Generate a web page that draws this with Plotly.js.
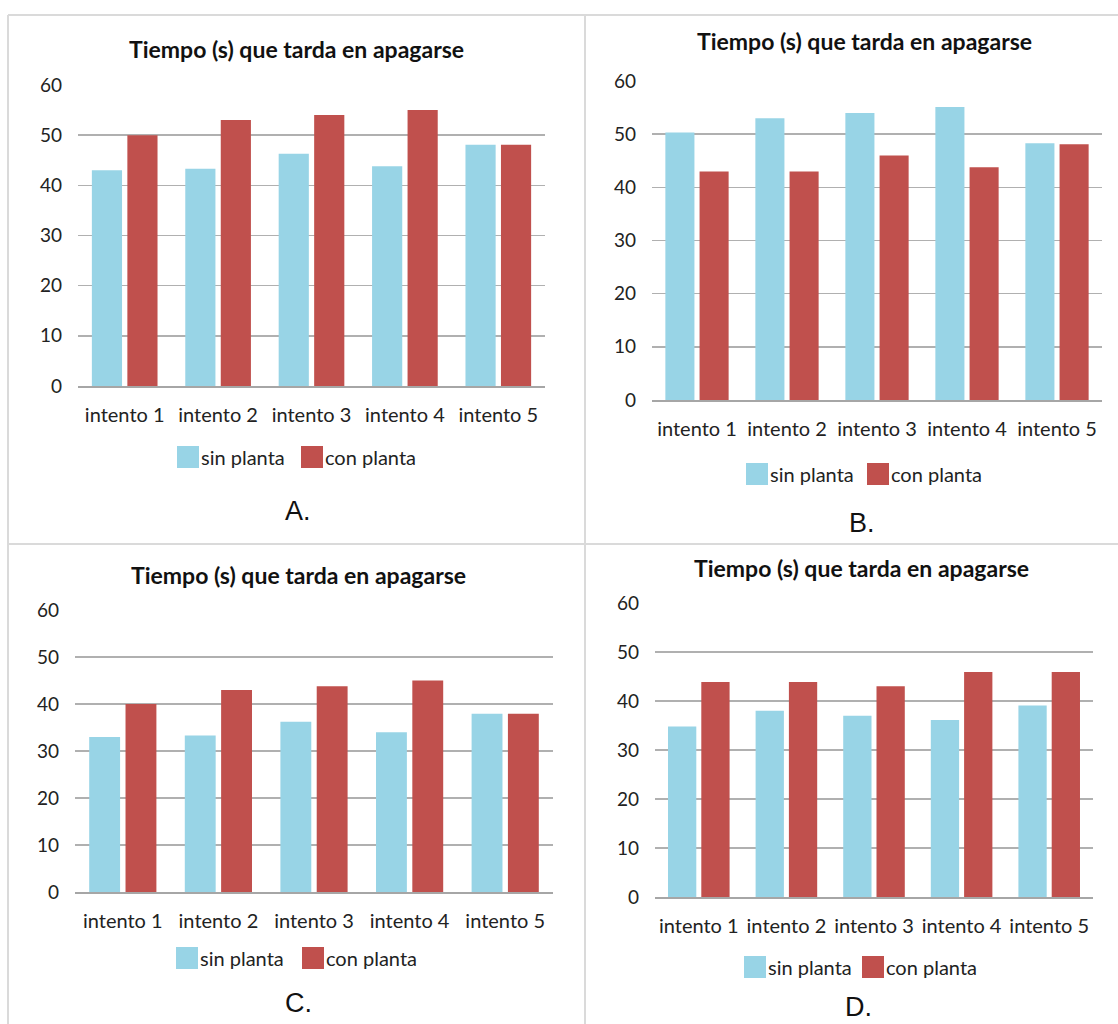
<!DOCTYPE html>
<html>
<head>
<meta charset="utf-8">
<script src="https://cdn.plot.ly/plotly-3.0.1.min.js"></script>
<style>html,body{margin:0;padding:0;background:#fff;}#chart{width:1118px;height:1024px;}</style>
</head>
<body>
<div id="chart"></div>
<script>
// ---- data ----
const categories = ['intento 1', 'intento 2', 'intento 3', 'intento 4', 'intento 5'];
const seriesNames = ['sin planta', 'con planta'];
const chartTitle = 'Tiempo (s) que tarda en apagarse';
const yTicks = [0, 10, 20, 30, 40, 50, 60];

const sinA = [43, 43.3, 46.3, 43.8, 48.1];
const conA = [50, 53, 54, 55, 48.1];
const sinB = [50.3, 53, 54, 55.1, 48.3];
const conB = [43, 43, 46, 43.8, 48.1];
const sinC = [33, 33.3, 36.2, 34, 37.9];
const conC = [40, 43, 43.8, 45, 37.9];
const sinD = [34.8, 38, 37, 36.1, 39.1];
const conD = [43.9, 43.9, 43, 45.9, 45.9];
const panelLabels = ['A.', 'B.', 'C.', 'D.'];

// ---- layout helpers ----
const W = 1118, H = 1024;
const px = v => v / W;
const py = v => 1 - v / H;
const SIN = '#98d4e6';
const CON = '#c0504d';
const FONT = 'Lato, "Open Sans", sans-serif';

const panels = [
  {sin: sinA, con: conA, x0: 78,  x1: 545,  yTop: 85,  yBot: 386, tX: 296, tY: 49,  legY: 457, sinSw: 177, conSw: 301, lX: 298, lY: 511},
  {sin: sinB, con: conB, x0: 652, x1: 1102, yTop: 81,  yBot: 400, tX: 864, tY: 41,  legY: 474, sinSw: 746, conSw: 867, lX: 862, lY: 523},
  {sin: sinC, con: conC, x0: 75,  x1: 553,  yTop: 610, yBot: 892, tX: 298, tY: 575, legY: 958, sinSw: 176, conSw: 302, lX: 298, lY: 1003},
  {sin: sinD, con: conD, x0: 655, x1: 1093, yTop: 603, yBot: 897, tX: 861, tY: 568, legY: 967, sinSw: 744, conSw: 862, lX: 858, lY: 1007}
];

const data = [];
const layout = {
  width: W, height: H,
  margin: {l: 0, r: 0, t: 0, b: 0},
  paper_bgcolor: '#ffffff',
  plot_bgcolor: '#ffffff',
  barmode: 'group',
  bargap: 0.24,
  bargroupgap: 0.15,
  showlegend: false,
  font: {family: FONT, color: '#222222'},
  annotations: [],
  shapes: []
};

panels.forEach((p, i) => {
  const n = i + 1;
  const xa = n === 1 ? 'x' : 'x' + n;
  const ya = n === 1 ? 'y' : 'y' + n;
  data.push({type: 'bar', x: categories, y: p.sin, name: seriesNames[0], xaxis: xa, yaxis: ya,
             marker: {color: SIN}, hoverinfo: 'x+y+name'});
  data.push({type: 'bar', x: categories, y: p.con, name: seriesNames[1], xaxis: xa, yaxis: ya,
             marker: {color: CON}, hoverinfo: 'x+y+name'});

  layout['xaxis' + (n === 1 ? '' : n)] = {
    domain: [px(p.x0), px(p.x1)], anchor: ya, type: 'category',
    showgrid: false, zeroline: false, showline: true, linecolor: '#a6a6a6', linewidth: 1.5,
    ticks: '', ticklabelstandoff: 10,
    tickfont: {family: FONT, size: 20, color: '#222222'}, fixedrange: true
  };
  layout['yaxis' + (n === 1 ? '' : n)] = {
    domain: [py(p.yBot), py(p.yTop)], anchor: xa, range: [0, 60],
    tickvals: yTicks, showgrid: true, gridcolor: '#b0b0b0', gridwidth: 1.5,
    zeroline: false, showline: false, ticks: '', ticklabelstandoff: 15,
    tickfont: {family: FONT, size: 19, color: '#222222'}, fixedrange: true
  };

  // chart title
  layout.annotations.push({xref: 'paper', yref: 'paper', x: px(p.tX), y: py(p.tY),
    xanchor: 'center', yanchor: 'middle', showarrow: false,
    text: '<b>' + chartTitle + '</b>', font: {family: FONT, size: 23, color: '#111111'}});
  // legend
  [[p.sinSw, SIN, seriesNames[0]], [p.conSw, CON, seriesNames[1]]].forEach(([sx, col, name]) => {
    layout.shapes.push({type: 'rect', xref: 'paper', yref: 'paper',
      x0: px(sx), x1: px(sx + 22), y0: py(p.legY + 11), y1: py(p.legY - 11),
      fillcolor: col, line: {width: 0}});
    layout.annotations.push({xref: 'paper', yref: 'paper', x: px(sx + 22), y: py(p.legY),
      xanchor: 'left', yanchor: 'middle', showarrow: false, text: name,
      font: {family: FONT, size: 20, color: '#222222'}});
  });
  // panel letter
  layout.annotations.push({xref: 'paper', yref: 'paper', x: px(p.lX), y: py(p.lY),
    xanchor: 'center', yanchor: 'middle', showarrow: false, text: panelLabels[i],
    font: {family: '"Liberation Sans", Arial, sans-serif', size: 27, color: '#111111'}});
});

// panel frames
const frame = {color: '#dadada', width: 2};
layout.shapes.push(
  {type: 'line', xref: 'paper', yref: 'paper', x0: px(8), x1: 1, y0: py(15), y1: py(15), line: frame},
  {type: 'line', xref: 'paper', yref: 'paper', x0: px(8), x1: px(8), y0: py(15), y1: 0, line: frame},
  {type: 'line', xref: 'paper', yref: 'paper', x0: px(585), x1: px(585), y0: py(15), y1: 0, line: frame},
  {type: 'line', xref: 'paper', yref: 'paper', x0: px(8), x1: 1, y0: py(544), y1: py(544), line: frame}
);

Plotly.newPlot('chart', data, layout, {displayModeBar: false, staticPlot: true});
</script>
</body>
</html>
